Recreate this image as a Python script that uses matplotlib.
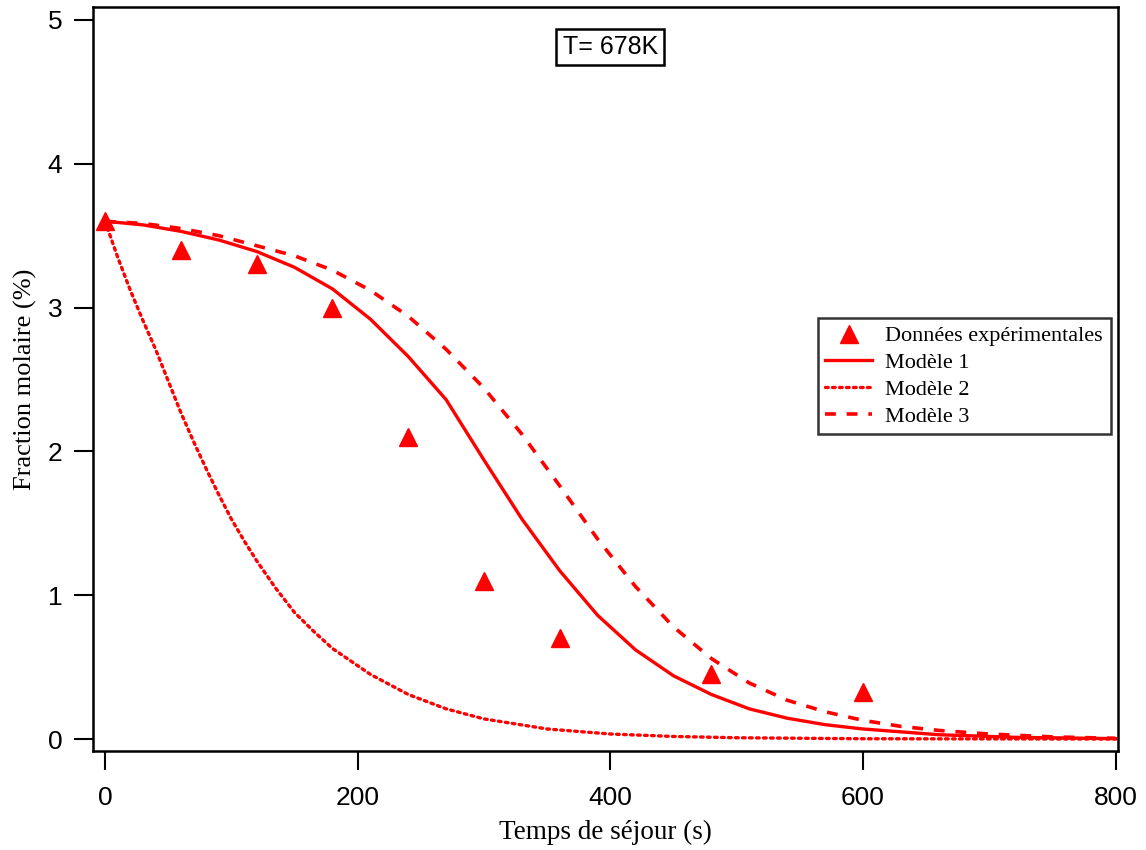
import matplotlib
matplotlib.use("Agg")
import matplotlib.pyplot as plt

# experimental points
t_exp = [0, 60, 120, 180, 240, 300, 360, 480, 600]
x_exp = [3.6, 3.4, 3.3, 3.0, 2.1, 1.1, 0.7, 0.45, 0.33]

# model 1 (solid)
t_m1 = [0, 30, 60, 90, 120, 150, 180, 210, 240, 270, 300, 330, 360, 390, 420,
        450, 480, 510, 540, 570, 600, 660, 720, 800]
x_m1 = [3.6, 3.575, 3.53, 3.47, 3.39, 3.28, 3.13, 2.92, 2.66, 2.36, 1.94, 1.53,
        1.17, 0.86, 0.62, 0.44, 0.31, 0.21, 0.145, 0.10, 0.07, 0.03, 0.012, 0.003]

# model 2 (dotted)
t_m2 = [0, 10, 20, 30, 40, 50, 60, 70, 80, 90, 100, 110, 120, 135, 150, 165, 180,
        210, 240, 270, 300, 350, 400, 450, 500, 600, 800]
x_m2 = [3.6, 3.35, 3.12, 2.91, 2.71, 2.49, 2.27, 2.07, 1.88, 1.70, 1.53, 1.38, 1.24,
        1.05, 0.88, 0.75, 0.63, 0.45, 0.31, 0.21, 0.14, 0.07, 0.035, 0.018, 0.009,
        0.002, 0.0]

# model 3 (dashed)
t_m3 = [0, 30, 60, 90, 120, 150, 180, 210, 240, 270, 300, 330, 360, 390, 420, 450,
        480, 510, 540, 570, 600, 630, 660, 700, 750, 800]
x_m3 = [3.6, 3.585, 3.55, 3.5, 3.43, 3.36, 3.26, 3.12, 2.94, 2.71, 2.44, 2.12, 1.76,
        1.39, 1.06, 0.78, 0.56, 0.39, 0.27, 0.19, 0.13, 0.088, 0.06, 0.035, 0.015,
        0.005]

x_ticks = [0, 200, 400, 600, 800]
y_ticks = [0, 1, 2, 3, 4, 5]

RED = "#ff0000"
SERIF = "Liberation Serif"
SANS = "Liberation Sans"

fig = plt.figure(figsize=(11.46, 8.5), dpi=100)
ax = fig.add_axes([0.0812, 0.1165, 0.8944, 0.8753])

ax.plot(t_exp, x_exp, linestyle="none", marker="^", ms=13, color=RED,
        label="Données expérimentales")
ax.plot(t_m1, x_m1, "-", color=RED, lw=2.4, label="Modèle 1")
ax.plot(t_m2, x_m2, color=RED, lw=2.4, linestyle=(0, (0.8, 1.3)),
        dash_capstyle="round", label="Modèle 2")
ax.plot(t_m3, x_m3, color=RED, lw=2.6, linestyle=(0, (3, 3)), label="Modèle 3")

ax.set_xlim(-9.5, 802)
ax.set_ylim(-0.083, 5.09)
ax.set_xticks(x_ticks)
ax.set_yticks(y_ticks)
ax.tick_params(direction="out", length=14, width=1.5, labelsize=19)
ax.tick_params(axis="x", pad=11)
ax.tick_params(axis="y", pad=8)
for lab in ax.get_xticklabels() + ax.get_yticklabels():
    lab.set_fontfamily(SANS)
for sp in ax.spines.values():
    sp.set_linewidth(1.8)

ax.set_xlabel("Temps de séjour (s)", fontsize=19.5, family=SERIF, labelpad=7)
ax.set_ylabel("Fraction molaire (%)", fontsize=19, family=SERIF, labelpad=8)

ax.text(400, 4.81, "T= 678K", fontsize=18, family=SANS, ha="center", va="center",
        bbox=dict(boxstyle="square,pad=0.25", fc="white", ec="black", lw=1.8))

leg = ax.legend(loc="upper left", bbox_to_anchor=(0.707, 0.582), borderaxespad=0,
                prop={"family": SERIF, "size": 16}, frameon=True, fancybox=False,
                edgecolor="black", handlelength=2.1, handletextpad=0.6,
                labelspacing=0.28, borderpad=0.35)
leg.get_frame().set_linewidth(1.8)

fig.savefig("out.png", dpi=100)
